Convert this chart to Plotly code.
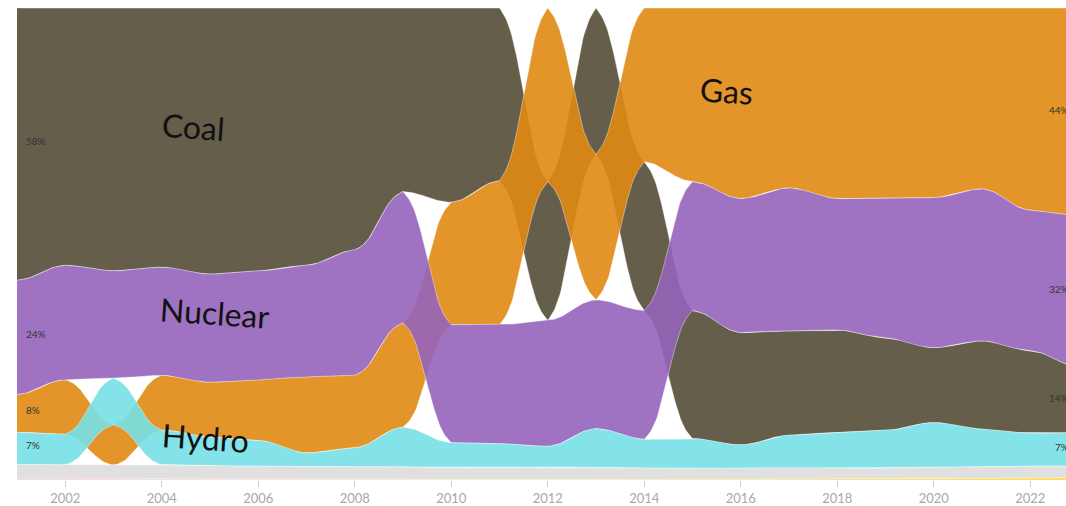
import numpy as np
import plotly.graph_objects as go

# ---------------- data (share of generation, %) ----------------
years = list(range(2001, 2024))
coal = [57.7, 54.5, 55.7, 54.9, 56.4, 55.7, 54.5, 51.3, 38.9, 41.2, 36.6, 29.4, 31.0, 31.5,
        27.1, 23.8, 22.1, 21.7, 19.6, 15.8, 18.7, 17.5, 14.0]
nuclear = [24.2, 24.2, 22.7, 22.9, 22.9, 23.1, 23.6, 26.5, 27.8, 25.0, 25.2, 26.7, 27.3, 27.3,
           27.3, 28.4, 30.3, 27.8, 29.7, 31.8, 32.2, 29.7, 32.0]
gas = [8.0, 11.6, 8.6, 11.6, 11.6, 12.8, 16.2, 15.4, 22.1, 25.9, 30.5, 36.8, 30.8, 32.6,
       36.8, 40.4, 38.1, 40.4, 40.2, 40.2, 38.3, 42.9, 44.0]
hydro = [6.8, 6.5, 9.9, 7.4, 6.1, 5.5, 2.9, 4.0, 8.4, 5.3, 5.1, 4.4, 8.2, 6.1,
         6.3, 5.0, 6.9, 7.6, 8.0, 9.5, 8.0, 6.9, 7.0]
other = [3.0, 3.0, 2.9, 3.0, 2.8, 2.7, 2.6, 2.6, 2.6, 2.5, 2.5, 2.6, 2.6, 2.4,
         2.4, 2.3, 2.4, 2.3, 2.3, 2.4, 2.5, 2.6, 2.5]
oil = [0.3, 0.2, 0.2, 0.2, 0.2, 0.2, 0.2, 0.2, 0.2, 0.1, 0.1, 0.1, 0.1, 0.1,
       0.1, 0.0, 0.0, 0.0, 0.0, 0.0, 0.0, 0.0, 0.0]
solar = [0.0, 0.0, 0.0, 0.0, 0.0, 0.0, 0.0, 0.0, 0.0, 0.0, 0.0, 0.0, 0.0, 0.0,
         0.0, 0.1, 0.2, 0.2, 0.2, 0.3, 0.3, 0.4, 0.5]

names = ["Coal", "Gas", "Nuclear", "Hydro", "Other", "Oil", "Solar"]
series = [coal, gas, nuclear, hydro, other, oil, solar]
colors = ["rgba(84,77,55,0.9)", "rgba(224,137,19,0.9)", "rgba(149,100,186,0.9)",
          "rgba(118,224,230,0.9)", "rgba(221,221,221,0.9)", "rgba(234,160,205,0.9)",
          "rgba(250,212,40,0.9)"]
big_labels = {"Coal": (2004.65, 74.8), "Nuclear": (2005.1, 35.4),
              "Gas": (2015.7, 82.5), "Hydro": (2004.9, 8.9)}
x_range = [2001, 2022.74]

# ---------------- stacked-by-rank layout ----------------
vals = np.array(series, dtype=float)          # (n_series, n_years)
vals = vals / vals.sum(axis=0) * 100.0
n_s, n_y = vals.shape
tops = np.zeros_like(vals)
bots = np.zeros_like(vals)
for j in range(n_y):
    order = sorted(range(n_s), key=lambda s: -vals[s, j])
    y = 100.0
    for s in order:
        tops[s, j] = y
        y -= vals[s, j]
        bots[s, j] = y

K = 0.6
tt = np.linspace(0, 1, 41)
ease = tt - K * np.sin(2 * np.pi * tt) / (2 * np.pi)


def curve(arr):
    xs, ys = [], []
    for i in range(n_y - 1):
        seg_t = tt if i == 0 else tt[1:]
        seg_e = ease if i == 0 else ease[1:]
        xs.extend(years[i] + seg_t)
        ys.extend(arr[i] + (arr[i + 1] - arr[i]) * seg_e)
    return np.array(xs), np.array(ys)


fig = go.Figure()
for s, name in enumerate(names):
    xt, yt = curve(tops[s])
    xb, yb = curve(bots[s])
    fig.add_trace(go.Scatter(
        x=np.concatenate([xt, xb[::-1]]), y=np.concatenate([yt, yb[::-1]]),
        mode="lines", fill="toself", fillcolor=colors[s],
        line=dict(color="rgba(255,255,255,0.5)", width=0.8),
        name=name, hoverinfo="skip", showlegend=False))

annotations = []
x_span = x_range[1] - x_range[0]
for s, name in enumerate(names[:4]):
    # first-year label
    annotations.append(dict(
        x=years[0], y=(tops[s, 0] + bots[s, 0]) / 2, xref="x", yref="y",
        text=f"{round(series[s][0])}%", showarrow=False, xanchor="left", xshift=7, yshift=3,
        font=dict(size=10, color="#333", family="Lato, sans-serif")))
    # last-year label (positioned at the last year, partly beyond the window)
    annotations.append(dict(
        x=(years[-1] - x_range[0]) / x_span, y=(tops[s, -1] + bots[s, -1]) / 2,
        xref="paper", yref="y",
        text=f"{round(series[s][-1])}%", showarrow=False, xanchor="right", xshift=-8, yshift=2,
        font=dict(size=10, color="#333", family="Lato, sans-serif")))

for name, (lx, ly) in big_labels.items():
    annotations.append(dict(
        x=lx, y=ly, xref="x", yref="y", text=name, showarrow=False, textangle=4,
        font=dict(size=32, color="#111", family="Lato, sans-serif")))

fig.update_layout(
    width=1066, height=506,
    margin=dict(l=17, r=0, t=8, b=22),
    paper_bgcolor="white", plot_bgcolor="white",
    showlegend=False,
    annotations=annotations,
    xaxis=dict(range=x_range, tickvals=list(range(2002, 2023, 2)), ticks="outside",
               ticklen=6, tickcolor="#cccccc", tickwidth=1, showgrid=False, zeroline=False,
               showline=False, tickfont=dict(size=13, color="#a8a8a8", family="Lato, sans-serif")),
    yaxis=dict(range=[0, 100], visible=False, showgrid=False, zeroline=False, fixedrange=True),
)

fig.write_html(
    "out.html",
    config={"displayModeBar": False, "staticPlot": True},
    post_script="document.body.style.margin='0';document.body.style.overflow='hidden';"
                "document.documentElement.style.overflow='hidden';")
